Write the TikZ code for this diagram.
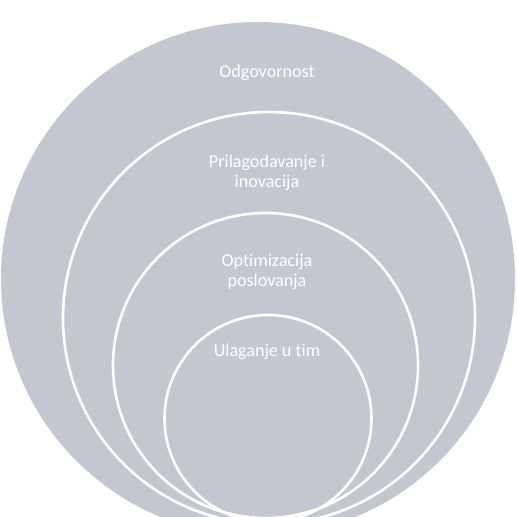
\documentclass[tikz,border=0pt]{standalone}
\usepackage{fontspec}
\setmainfont[Ligatures={NoCommon}]{Carlito}
\usepackage{tikz}
\usepackage{xcolor}
\definecolor{ringgray}{RGB}{195,199,208}
\tikzset{ring/.style={draw=white, line width=1.5pt},
         lbl/.style={text=white, font=\fontsize{10.3}{11.4}\selectfont, align=center}}

\begin{document}
\begin{tikzpicture}
        \useasboundingbox (0,0) rectangle (10.34,10.32);
        \clip (0,0) rectangle (10.34,10.32);
        \fill[ringgray] (5.16,4.74) circle (5.14);
        \draw[ring] (5.38,3.96) circle (4.12);
        \draw[ring] (5.31,3.01) circle (3.05);
        \draw[ring] (5.36,1.95) circle (2.07);
        \node[lbl] (odg) at (5.34,8.86) {Odgovornost};
        \node[lbl] (pri) at (5.34,6.86) {Prilagodavanje i\\inovacija};
        \node[lbl] (opt) at (5.34,4.88) {Optimizacija\\poslovanja};
        \node[lbl] (ula) at (5.34,3.28) {Ulaganje u tim};
      \end{tikzpicture}
\end{document}
